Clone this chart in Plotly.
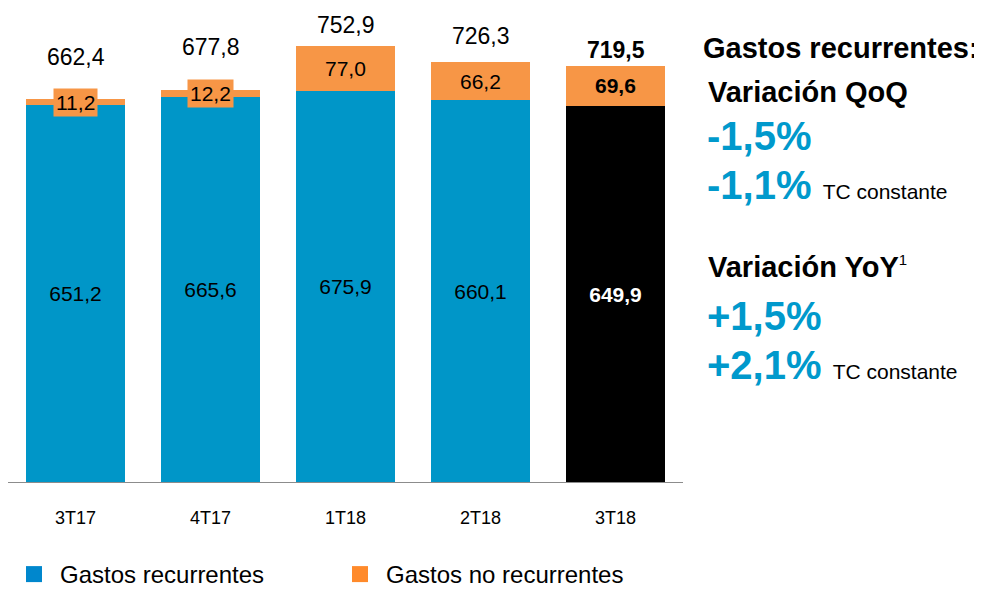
import plotly.graph_objects as go

# --- data ---
quarters = ["3T17", "4T17", "1T18", "2T18", "3T18"]
recurrentes = [651.2, 665.6, 675.9, 660.1, 649.9]
no_recurrentes = [11.2, 12.2, 77.0, 66.2, 69.6]
totales = [662.4, 677.8, 752.9, 726.3, 719.5]

BLUE = "#0096C8"
ORANGE = "#F79646"
TXT_BLUE = "#0099CC"
FONT = "Liberation Sans, Arial, sans-serif"

# page body has an 8px margin, so the figure is laid out 8px right/down
W, H = 982, 589
ML, MT = 0, 0
PW, PH = 675, 481
MR, MB = W - ML - PW, H - MT - PH


def px(x):
    return (x - ML) / PW


def py(y):
    return (MT + PH - y) / PH


def fmt(v):
    return f"{v:.1f}".replace(".", ",")


fig = go.Figure()

fig.add_trace(go.Bar(
    x=quarters, y=recurrentes, name="Gastos recurrentes", showlegend=False,
    marker=dict(color=[BLUE] * 4 + ["#000000"], line=dict(width=0)),
    width=0.74,
    texttemplate=["%{y:.1f}"] * 4 + ["<b>%{y:.1f}</b>"],
    textposition="inside", insidetextanchor="middle", textangle=0,
    textfont=dict(family=FONT, size=21, color=["black"] * 4 + ["white"]),
    hoverinfo="x+y",
))
fig.add_trace(go.Bar(
    x=quarters, y=no_recurrentes, name="Gastos no recurrentes", showlegend=False,
    marker=dict(color=ORANGE, line=dict(width=0)),
    width=0.74, hoverinfo="x+y",
))

# legend entries (bigger square swatches than the default bar symbol)
for name, col in [("Gastos recurrentes", "#0087CD"), ("Gastos no recurrentes", "#FF8A2B")]:
    fig.add_trace(go.Scatter(
        x=[None], y=[None], mode="markers", name=name,
        marker=dict(symbol="square", size=16, color=col),
    ))

annotations = []
# orange segment labels
for i, q in enumerate(quarters):
    bold = i == len(quarters) - 1
    t = fmt(no_recurrentes[i])
    annotations.append(dict(
        x=q, y=recurrentes[i] + no_recurrentes[i] / 2, xref="x", yref="y",
        text=f"<b>{t}</b>" if bold else t, showarrow=False,
        bgcolor=ORANGE, borderpad=2,
        font=dict(family=FONT, size=21, color="black"),
    ))
# totals above bars
shifts = [27, 28, 6, 11, 1]
for i, q in enumerate(quarters):
    bold = i == len(quarters) - 1
    t = fmt(totales[i])
    annotations.append(dict(
        x=q, y=totales[i], xref="x", yref="y", yanchor="bottom",
        yshift=shifts[i], text=f"<b>{t}</b>" if bold else t, showarrow=False,
        font=dict(family=FONT, size=23, color="black"),
    ))

# right-hand commentary
tc = "<span style='font-size:21px;color:black;font-weight:normal'>TC constante</span>"
sup1 = "<sup><span style='font-size:15px'>1</span></sup>"
side = [
    ("<b>Gastos recurrentes:</b>", 693, 41, 29, "black"),
    ("<b>Variación QoQ</b>", 698, 85, 29, "black"),
    ("<b>-1,5%</b>", 697, 130, 40, TXT_BLUE),
    ("<b>-1,1%</b> " + tc, 697, 180, 40, TXT_BLUE),
    ("<b>Variación YoY</b>" + sup1, 698, 263, 29, "black"),
    ("<b>+1,5%</b>", 697, 313, 40, TXT_BLUE),
    ("<b>+2,1%</b> " + tc, 697, 362, 40, TXT_BLUE),
]
for text, x, y, size, color in side:
    annotations.append(dict(
        x=px(x), y=py(y), xref="paper", yref="paper", xanchor="left",
        yanchor="middle", text=text, showarrow=False,
        font=dict(family=FONT, size=size, color=color),
    ))

fig.update_layout(
    width=W, height=H,
    margin=dict(l=ML, r=MR, t=MT, b=MB),
    barmode="stack",
    separators=",.",
    plot_bgcolor="white", paper_bgcolor="white",
    font=dict(family=FONT, color="black"),
    annotations=annotations,
    showlegend=True,
    legend=dict(
        orientation="h", x=0, xanchor="left", y=py(575), yanchor="middle",
        font=dict(family=FONT, size=24, color="black"),
        entrywidth=269, itemwidth=42, itemsizing="trace", traceorder="normal",
        bgcolor="rgba(0,0,0,0)",
    ),
)
fig.update_xaxes(
    range=[-0.5, 4.5], showline=True, linecolor="#8c8c8c", linewidth=1,
    showgrid=False, ticks="", tickfont=dict(family=FONT, size=18, color="black"),
    ticklabelstandoff=19,
)
fig.update_yaxes(range=[0, PH / 0.587], visible=False, showgrid=False)

fig.write_html("out.html")
